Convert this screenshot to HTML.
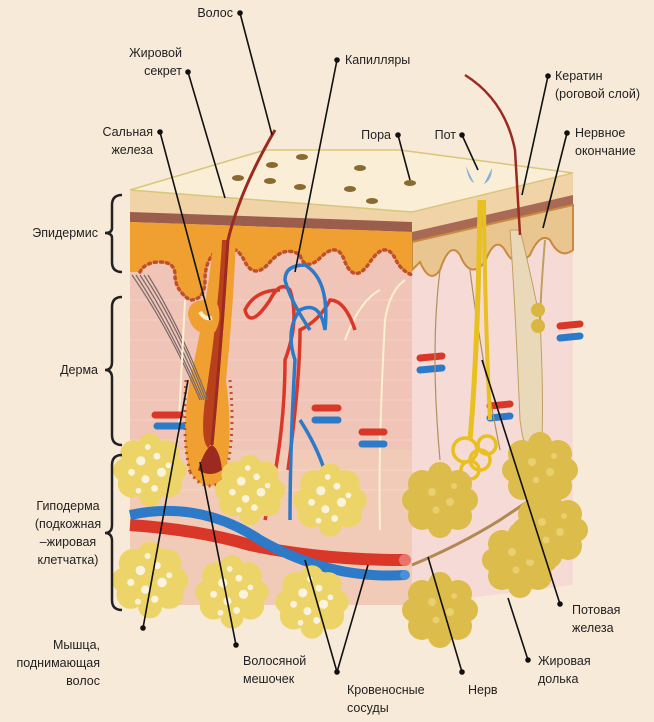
<!DOCTYPE html>
<html><head><meta charset="utf-8"><style>
html,body{margin:0;padding:0;background:#f8ead8;}
svg{display:block}
text{font-family:"Liberation Sans Narrow","Liberation Sans",sans-serif;font-size:12.5px;fill:#222}
</style></head><body>
<svg width="654" height="722" viewBox="0 0 654 722" xmlns="http://www.w3.org/2000/svg">
<rect width="654" height="722" fill="#f8ead8"/>
<defs>
<g id="fat">
<circle cx="0" cy="0" r="22" fill="#ecd469"/>
<circle cx="-14" cy="-14" r="12" fill="#ecd469"/><circle cx="14" cy="-14" r="12" fill="#ecd469"/>
<circle cx="-16" cy="12" r="12" fill="#ecd469"/><circle cx="16" cy="12" r="12" fill="#ecd469"/>
<circle cx="0" cy="-22" r="10" fill="#ecd469"/><circle cx="0" cy="22" r="10" fill="#ecd469"/>
<circle cx="-22" cy="0" r="10" fill="#ecd469"/><circle cx="22" cy="0" r="10" fill="#ecd469"/>
<g fill="#fbf3dc"><circle cx="-8" cy="-8" r="4"/><circle cx="6" cy="-12" r="3"/><circle cx="10" cy="2" r="4"/><circle cx="-4" cy="8" r="3.5"/><circle cx="-16" cy="2" r="3"/><circle cx="4" cy="16" r="3"/><circle cx="16" cy="-4" r="2.5"/><circle cx="-10" cy="18" r="2.5"/><circle cx="-2" cy="-20" r="2.5"/></g>
</g>
<g id="fatD">
<circle cx="0" cy="0" r="26" fill="#dcbc4a"/>
<circle cx="-18" cy="-16" r="14" fill="#dcbc4a"/><circle cx="18" cy="-16" r="14" fill="#dcbc4a"/>
<circle cx="-18" cy="16" r="14" fill="#dcbc4a"/><circle cx="18" cy="16" r="14" fill="#dcbc4a"/>
<circle cx="0" cy="-26" r="12" fill="#dcbc4a"/><circle cx="0" cy="26" r="12" fill="#dcbc4a"/>
<circle cx="-26" cy="0" r="12" fill="#dcbc4a"/><circle cx="26" cy="0" r="12" fill="#dcbc4a"/>
<g fill="#e8d070"><circle cx="-8" cy="-8" r="4"/><circle cx="10" cy="2" r="4"/><circle cx="-4" cy="10" r="3.5"/><circle cx="14" cy="-14" r="3"/></g>
</g>
</defs>

<polygon points="412,212 573,173 573,585 412,605" fill="#f5dad6"/>
<polygon points="412,212 573,173 573,195 412,232" fill="#f0d4a8"/>
<polygon points="412,232 573,195 573,205 412,242" fill="#a86a55"/>
<path d="M412,242 L573,205 L573,250 Q560,260 550,240 Q540,232 530,255 Q515,270 505,250 Q495,235 485,262 Q470,280 460,255 Q450,240 440,270 Q430,285 420,262 L412,270 Z" fill="#e9c690" stroke="#c98a40" stroke-width="2"/>
<rect x="130" y="190" width="282" height="415" fill="#f0c4b6"/>
<rect x="130" y="450" width="282" height="155" fill="#f2cbb8"/>
<g stroke="#f7d6ca" stroke-width="1" fill="none" opacity="0.8">
<path d="M130,300 H412 M130,320 H412 M130,340 H412 M130,360 H412 M130,380 H412 M130,400 H412 M130,420 H412 M130,440 H412 M130,470 H412 M130,490 H412"/>
</g>
<polygon points="130,190 412,212 412,222 130,212" fill="#f0d4a8"/>
<polygon points="130,212 412,222 412,232 130,222" fill="#9c5e4c"/>
<path d="M130,222 L412,232 L412,275 Q400,270 395,258 Q385,240 370,262 Q355,285 345,262 Q338,240 320,258 Q305,272 300,255 Q285,245 270,262 Q255,280 245,262 Q235,240 215,252 Q205,262 205,280 Q205,300 190,300 Q175,290 175,275 Q175,262 160,262 Q145,262 140,272 L130,272 Z" fill="#f0a030"/>
<path d="M140,272 Q145,262 160,262 Q175,262 175,275 Q175,290 190,300 Q205,300 205,280 Q205,262 215,252 Q235,240 245,262 Q255,280 270,262 Q285,245 300,255 Q305,272 320,258 Q338,240 345,262 Q355,285 370,262 Q385,240 395,258 Q400,270 412,275" fill="none" stroke="#c0502a" stroke-width="3.5" stroke-dasharray="2 4" stroke-linecap="round"/>
<polygon points="130,190 265,150 400,150 573,173 412,212" fill="#faefd6" stroke="#d8c67a" stroke-width="1.5"/>
<g fill="#8a6a30"><ellipse cx="238" cy="178" rx="6" ry="3"/><ellipse cx="272" cy="165" rx="6" ry="3"/><ellipse cx="270" cy="181" rx="6" ry="3"/><ellipse cx="302" cy="157" rx="6" ry="3"/><ellipse cx="300" cy="187" rx="6" ry="3"/><ellipse cx="360" cy="168" rx="6" ry="3"/><ellipse cx="350" cy="189" rx="6" ry="3"/><ellipse cx="372" cy="201" rx="6" ry="3"/><ellipse cx="410" cy="183" rx="6" ry="3"/></g>
<path d="M466,166 Q470,175 474,183 Q468,180 466,166Z" fill="#88aee0"/><path d="M492,168 Q488,176 484,184 Q492,180 492,168Z" fill="#88aee0"/>
<!-- hair follicle -->
<path d="M214,235 Q208,300 190,380 Q180,440 190,472 Q205,495 224,480 Q234,440 226,380 Q234,300 236,235Z" fill="#f0a030"/>
<path d="M222,240 Q218,320 205,400 Q200,440 208,448 Q216,440 216,400 Q226,320 228,240Z" fill="#b8401c"/>
<path d="M198,470 Q205,448 212,445 Q220,450 222,470 Q210,478 198,470Z" fill="#9c2a20"/>
<path d="M212,445 Q220,360 228,240 Q240,190 275,130" fill="none" stroke="#9c2a20" stroke-width="3"/>
<path d="M190,472 Q205,495 224,480 M186,380 Q182,440 190,472 M230,380 Q236,440 224,480" fill="none" stroke="#c0502a" stroke-width="3" stroke-dasharray="2 4"/>
<path d="M205,300 Q188,300 188,315 Q193,338 215,332 Q222,320 218,305Z" fill="#f0a030"/>
<path d="M200,312 Q205,320 212,318" stroke="#fbf0d0" stroke-width="4" fill="none"/>
<g stroke="#7a6a6a" stroke-width="1.2" fill="none"><path d="M132,275 Q170,330 200,400"/><path d="M136,275 Q172,330 202,400"/><path d="M140,275 Q176,330 204,400"/><path d="M144,275 Q180,330 206,400"/><path d="M148,275 Q182,330 208,400"/></g>
<g stroke="#fbf0d0" stroke-width="2" fill="none"><path d="M178,440 Q182,360 185,300"/><path d="M380,530 Q378,450 385,320 Q390,290 405,280"/><path d="M345,340 Q360,300 380,290"/></g>
<g fill="none" stroke-width="3.5">
<path d="M265,520 Q285,440 285,360 Q300,320 290,290 Q280,280 270,300 Q250,330 245,310 Q255,290 280,290" stroke="#d93828"/>
<path d="M288,470 Q300,380 300,330 Q320,320 330,300 Q345,300 355,330" stroke="#d93828"/>
<path d="M290,520 Q290,450 295,360 Q285,330 300,310 Q320,300 325,330 Q330,280 305,265 Q285,265 285,280 Q290,300 310,330" stroke="#2c7ac8"/>
</g>
<path d="M130,525 Q200,530 250,545 Q320,560 405,560" fill="none" stroke="#d93828" stroke-width="12"/>
<path d="M130,515 Q200,500 260,540 Q330,580 405,575" fill="none" stroke="#2c7ac8" stroke-width="10"/>
<circle cx="405" cy="560" r="6" fill="#e8736a"/><circle cx="405" cy="575" r="5" fill="#4a90d8"/>
<path d="M330,510 Q332,470 300,420" stroke="#2c7ac8" stroke-width="3.5" fill="none"/>
<g stroke-linecap="round">
<line x1="155" y1="415" x2="180" y2="415" stroke="#d93828" stroke-width="7"/><line x1="157" y1="426" x2="182" y2="426" stroke="#2c7ac8" stroke-width="7"/>
<line x1="315" y1="408" x2="338" y2="408" stroke="#d93828" stroke-width="7"/><line x1="315" y1="420" x2="338" y2="420" stroke="#2c7ac8" stroke-width="7"/>
<line x1="362" y1="432" x2="384" y2="432" stroke="#d93828" stroke-width="7"/><line x1="362" y1="444" x2="384" y2="444" stroke="#2c7ac8" stroke-width="7"/>
<line x1="420" y1="358" x2="442" y2="356" stroke="#d93828" stroke-width="7"/><line x1="420" y1="370" x2="442" y2="368" stroke="#2c7ac8" stroke-width="7"/>
<line x1="490" y1="406" x2="510" y2="404" stroke="#d93828" stroke-width="7"/><line x1="490" y1="418" x2="510" y2="416" stroke="#2c7ac8" stroke-width="7"/>
<line x1="560" y1="326" x2="580" y2="324" stroke="#d93828" stroke-width="7"/><line x1="560" y1="338" x2="580" y2="336" stroke="#2c7ac8" stroke-width="7"/>
</g>
<g transform="translate(150,470) scale(1.15)"><use href="#fat"/></g>
<g transform="translate(250,490) scale(1.1)"><use href="#fat"/></g>
<g transform="translate(330,500) scale(1.15)"><use href="#fat"/></g>
<g transform="translate(150,580) scale(1.2)"><use href="#fat"/></g>
<g transform="translate(232,592) scale(1.15)"><use href="#fat"/></g>
<g transform="translate(312,602) scale(1.15)"><use href="#fat"/></g>
<path d="M440,270 Q430,350 440,460 M470,270 Q480,350 500,450" stroke="#b09060" stroke-width="1.2" fill="none"/>
<path d="M510,230 Q515,300 520,420 Q525,460 540,470 Q545,420 540,320 Q530,270 520,230Z" fill="#ead9b8" stroke="#c0a060"/>
<path d="M520,235 L515,150 Q505,100 465,75" stroke="#9c2a20" stroke-width="2.5" fill="none"/>
<path d="M480,200 Q478,350 470,440" stroke="#e8c020" stroke-width="5" fill="none"/>
<path d="M484,200 Q485,320 490,420" stroke="#e8c020" stroke-width="4" fill="none"/>
<g stroke="#e8c020" stroke-width="3.5" fill="none"><circle cx="465" cy="450" r="12"/><circle cx="480" cy="460" r="10"/><circle cx="470" cy="470" r="9"/><circle cx="487" cy="445" r="9"/></g>
<path d="M545,240 Q540,300 540,330" stroke="#c0a060" stroke-width="2" fill="none"/>
<circle cx="538" cy="310" r="7" fill="#d8b840"/><circle cx="538" cy="326" r="7" fill="#d8b840"/>
<path d="M412,565 Q460,545 500,520 L560,480" stroke="#b08850" stroke-width="3" fill="none"/>
<use href="#fatD" x="440" y="500"/><use href="#fatD" x="540" y="470"/><use href="#fatD" x="520" y="560"/><use href="#fatD" x="440" y="610"/>
<use href="#fatD" x="550" y="530"/>

<g stroke="#222" stroke-width="2.5" fill="none">
<path d="M122,195 Q112,195 112,205 L112,228 Q112,233 105,233 Q112,233 112,238 L112,262 Q112,272 122,272"/>
<path d="M122,297 Q112,297 112,307 L112,362 Q112,370 105,370 Q112,370 112,378 L112,435 Q112,445 122,445"/>
<path d="M122,455 Q112,455 112,465 L112,525 Q112,533 105,533 Q112,533 112,541 L112,600 Q112,610 122,610"/>
</g>
<g stroke="#111" stroke-width="1.6" fill="#111">
<line x1="240" y1="13" x2="272" y2="135"/><circle cx="240" cy="13" r="2"/>
<line x1="188" y1="72" x2="225" y2="198"/><circle cx="188" cy="72" r="2"/>
<line x1="337" y1="60" x2="295" y2="272"/><circle cx="337" cy="60" r="2"/>
<line x1="160" y1="132" x2="210" y2="320"/><circle cx="160" cy="132" r="2"/>
<line x1="398" y1="135" x2="410" y2="180"/><circle cx="398" cy="135" r="2"/>
<line x1="462" y1="135" x2="478" y2="170"/><circle cx="462" cy="135" r="2"/>
<line x1="548" y1="76" x2="522" y2="195"/><circle cx="548" cy="76" r="2"/>
<line x1="567" y1="133" x2="543" y2="228"/><circle cx="567" cy="133" r="2"/>
<line x1="143" y1="628" x2="188" y2="380"/><circle cx="143" cy="628" r="2"/>
<line x1="236" y1="645" x2="200" y2="462"/><circle cx="236" cy="645" r="2"/>
<line x1="337" y1="672" x2="305" y2="560"/><line x1="337" y1="672" x2="368" y2="565"/><circle cx="337" cy="672" r="2"/>
<line x1="462" y1="672" x2="428" y2="557"/><circle cx="462" cy="672" r="2"/>
<line x1="528" y1="660" x2="508" y2="598"/><circle cx="528" cy="660" r="2"/>
<line x1="560" y1="604" x2="482" y2="360"/><circle cx="560" cy="604" r="2"/>
</g>
<text x="233" y="17" text-anchor="end">Волос</text>
<text x="182" y="57" text-anchor="end">Жировой</text><text x="182" y="75" text-anchor="end">секрет</text>
<text x="345" y="64">Капилляры</text>
<text x="153" y="136" text-anchor="end">Сальная</text><text x="153" y="154" text-anchor="end">железа</text>
<text x="391" y="139" text-anchor="end">Пора</text>
<text x="456" y="139" text-anchor="end">Пот</text>
<text x="555" y="80">Кератин</text><text x="555" y="98">(роговой слой)</text>
<text x="575" y="137">Нервное</text><text x="575" y="155">окончание</text>
<text x="98" y="237" text-anchor="end">Эпидермис</text>
<text x="98" y="374" text-anchor="end">Дерма</text>
<text x="68" y="510" text-anchor="middle">Гиподерма</text><text x="68" y="528" text-anchor="middle">(подкожная</text><text x="68" y="546" text-anchor="middle">–жировая</text><text x="68" y="564" text-anchor="middle">клетчатка)</text>
<text x="100" y="649" text-anchor="end">Мышца,</text><text x="100" y="667" text-anchor="end">поднимающая</text><text x="100" y="685" text-anchor="end">волос</text>
<text x="243" y="665">Волосяной</text><text x="243" y="683">мешочек</text>
<text x="347" y="694">Кровеносные</text><text x="347" y="712">сосуды</text>
<text x="468" y="694">Нерв</text>
<text x="538" y="665">Жировая</text><text x="538" y="683">долька</text>
<text x="572" y="614">Потовая</text><text x="572" y="632">железа</text>
</svg>
</body></html>
